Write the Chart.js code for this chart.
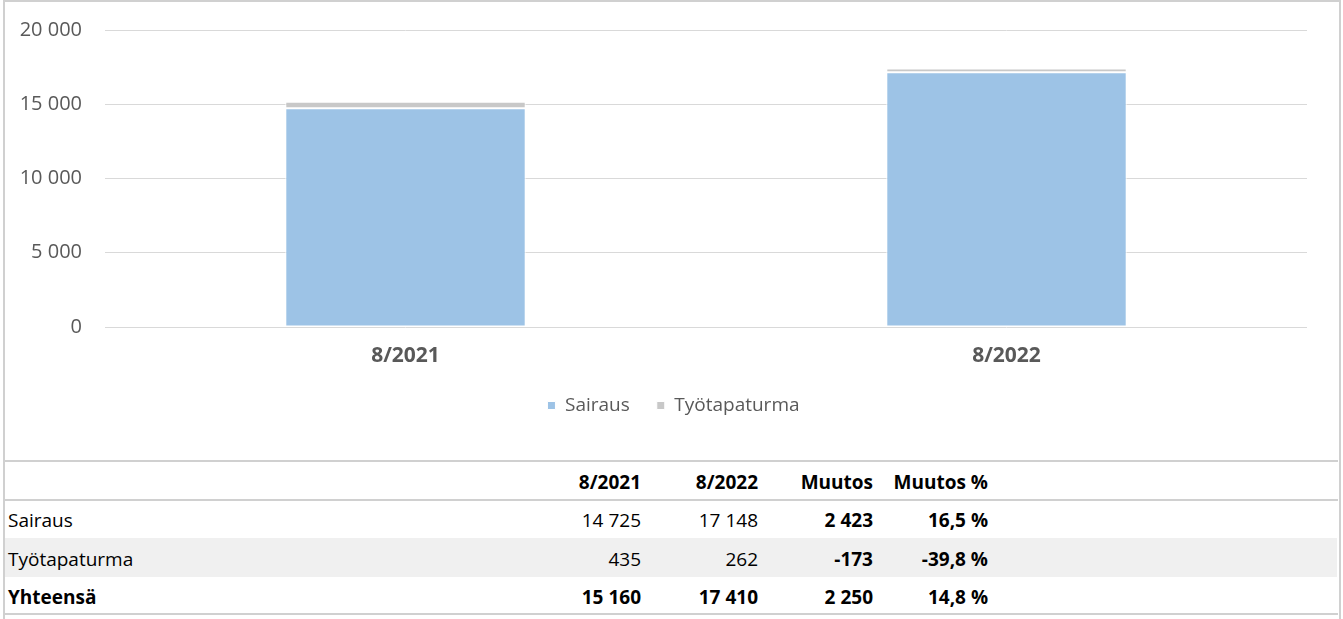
<!DOCTYPE html>
<html>
<head>
<meta charset="utf-8">
<script src="https://cdn.jsdelivr.net/npm/chart.js@4"></script>
<style>
  body { margin: 0; background: #fff; font-family: "Open Sans", sans-serif; }
  #frame { position: absolute; left: 3px; top: 0; width: 1334px; height: 640px;
           border-left: 2px solid #d0d0d0; border-right: 2px solid #d0d0d0; border-top: 2px solid #d0d0d0; }
  #wrap { position: absolute; left: 4px; top: 2px; width: 1334px; height: 458px; }
  .hline { position: absolute; left: 4px; width: 1334px; height: 2px; background: #d0d0d0; }
  #stripe { position: absolute; left: 5px; width: 1332px; top: 538px; height: 39px; background: #f0f0f0; }
  table { position: absolute; left: 4px; top: 462px; border-collapse: collapse; table-layout: fixed;
          font-size: 19px; color: #000; }
  td { padding: 2px 0 0 0; white-space: nowrap; text-align: right; }
  td:first-child { text-align: left; padding-left: 4px; }
  .b { font-weight: bold; }
</style>
</head>
<body>
<div id="frame"></div>
<div id="wrap"><canvas id="c"></canvas></div>
<div class="hline" style="top:460px"></div>
<div class="hline" style="top:499px"></div>
<div id="stripe"></div>
<div class="hline" style="top:613px"></div>
<table id="t">
  <colgroup>
    <col style="width:537px"><col style="width:100px"><col style="width:117px">
    <col style="width:115px"><col style="width:115px"><col style="width:350px">
  </colgroup>
  <tbody id="tb"></tbody>
</table>
<script>
// Data
const categories = ["8/2021", "8/2022"];
const sairaus = [14725, 17148];
const tyotapaturma = [435, 262];
const seriesNames = ["Sairaus", "Työtapaturma"];
const yTicks = [0, 5000, 10000, 15000, 20000];

function fmt(n) {
  const s = Math.abs(n).toString().replace(/\B(?=(\d{3})+(?!\d))/g, " ");
  return (n < 0 ? "-" : "") + s;
}
function pct(a, b) {
  return ((b - a) / a * 100).toFixed(1).replace(".", ",") + " %";
}

// legend sits centred on the whole frame, not on the padded box
const legendShift = {
  id: "legendShift",
  afterLayout(chart) {
    chart.legend.left += 18;
    chart.legend.right += 18;
  },
};

// Chart
new Chart(document.getElementById("c"), {
  type: "bar",
  data: {
    labels: categories,
    datasets: [
      {
        label: seriesNames[0],
        data: sairaus,
        backgroundColor: "#9dc3e6",
        borderColor: "#ffffff",
        borderWidth: 1,
        borderSkipped: false,
      },
      {
        label: seriesNames[1],
        data: tyotapaturma,
        backgroundColor: "#c8c8c8",
        borderColor: "#ffffff",
        borderWidth: 1,
        borderSkipped: false,
      },
    ],
  },
  options: {
    responsive: true,
    maintainAspectRatio: false,
    animation: false,
    layout: {
      padding: { top: 28, bottom: 35, right: 31, left: 0 },
    },
    datasets: {
      bar: { barPercentage: 0.4, categoryPercentage: 1 },
    },
    scales: {
      x: {
        stacked: true,
        grid: { display: false, drawTicks: false },
        border: { display: false },
        ticks: {
          padding: 16,
          color: "#595959",
          font: { family: "Open Sans", size: 21, weight: "bold" },
        },
        afterFit: (s) => { s.height = 42; },
      },
      y: {
        stacked: true,
        min: 0,
        max: 20000,
        afterBuildTicks: (s) => { s.ticks = yTicks.map((v) => ({ value: v })); },
        grid: { color: "#d9d9d9", lineWidth: 1, drawTicks: false },
        border: { display: false },
        ticks: {
          padding: 23,
          color: "#595959",
          font: { family: "Open Sans", size: 20 },
          callback: (v) => fmt(v),
        },
        afterFit: (s) => {
          s.width = 101;
          s.paddingTop = 0;
          s.paddingBottom = 0;
        },
      },
    },
    plugins: {
      legend: {
        position: "bottom",
        labels: {
          boxWidth: 8,
          boxHeight: 8,
          padding: 27,
          color: "#595959",
          font: { family: "Open Sans", size: 19 },
        },
      },
      tooltip: { enabled: false },
    },
  },
  plugins: [legendShift],
});

// Table
const tb = document.getElementById("tb");
const rows = [
  ["", categories[0], categories[1], "Muutos", "Muutos %", true, true],
  [seriesNames[0], fmt(sairaus[0]), fmt(sairaus[1]), fmt(sairaus[1] - sairaus[0]), pct(sairaus[0], sairaus[1]), false, true],
  [seriesNames[1], fmt(tyotapaturma[0]), fmt(tyotapaturma[1]), fmt(tyotapaturma[1] - tyotapaturma[0]), pct(tyotapaturma[0], tyotapaturma[1]), false, true],
];
const tot0 = sairaus[0] + tyotapaturma[0];
const tot1 = sairaus[1] + tyotapaturma[1];
rows.push(["Yhteensä", fmt(tot0), fmt(tot1), fmt(tot1 - tot0), pct(tot0, tot1), true, true]);
const heights = [38, 38, 39, 37];
rows.forEach((r, i) => {
  const tr = document.createElement("tr");
  tr.style.height = heights[i] + "px";
  for (let j = 0; j < 6; j++) {
    const td = document.createElement("td");
    td.textContent = j < 5 ? r[j] : "";
    const bold = r[5] || (j >= 3 && r[6]);
    if (bold) td.className = "b";
    tr.appendChild(td);
  }
  tb.appendChild(tr);
});
</script>
</body>
</html>
